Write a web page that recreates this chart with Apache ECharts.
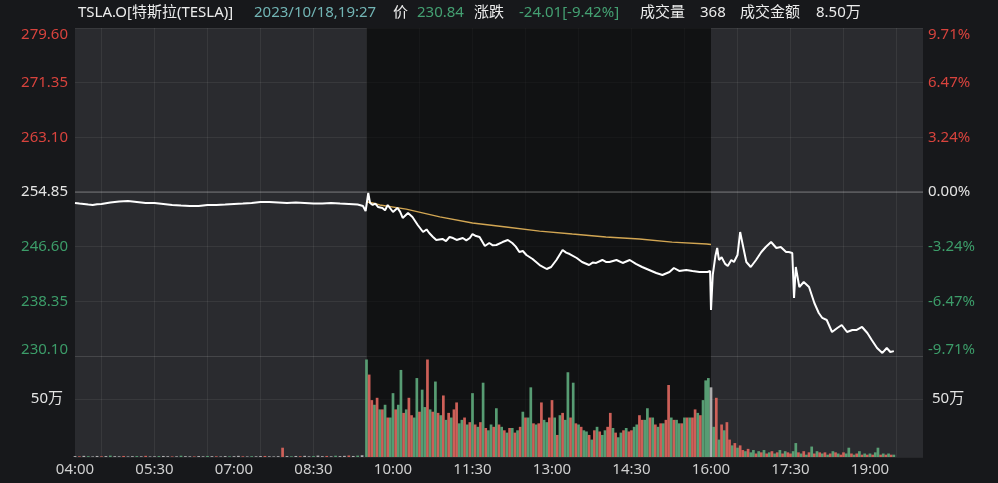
<!DOCTYPE html>
<html><head><meta charset="utf-8">
<script src="https://cdn.jsdelivr.net/npm/echarts@6/dist/echarts.min.js"></script>
<style>html,body{margin:0;padding:0;background:#17181b;}#c{width:998px;height:483px;}</style>
</head><body><div id="c"></div>
<script>
// ---------------- data ----------------
const prevClose = 254.85;
const xTickLabels = ['04:00','05:30','07:00','08:30','10:00','11:30','13:00','14:30','16:00','17:30','19:00'];
const priceTickLabels = ['230.10','238.35','246.60','254.85','263.10','271.35','279.60'];
const pctTickLabels = ['-9.71%','-6.47%','-3.24%','0.00%','3.24%','6.47%','9.71%'];
const volTickLabel = '50万';

const header = {
  name: 'TSLA.O[特斯拉(TESLA)]', time: '2023/10/18,19:27',
  priceLbl: '价', price: '230.84', chgLbl: '涨跌', chg: '-24.01[-9.42%]',
  volLbl: '成交量', vol: '368', amtLbl: '成交金额', amt: '8.50万'
};

const preTimes = ['04:00','04:05','04:10','04:15','04:20','04:25','04:30','04:40','04:50','05:00','05:10','05:20','05:30','05:40','05:50','06:00','06:10','06:20','06:30','06:40','06:50','07:00','07:10','07:20','07:30','07:40','07:50','08:00','08:10','08:20','08:30','08:40','08:50','09:00','09:10','09:20','09:26','09:29'];
const prePrices = [253.19,253.10,253.04,252.96,252.89,253.00,253.04,253.27,253.42,253.49,253.34,253.19,253.19,253.04,252.89,252.81,252.74,252.74,252.89,252.89,252.96,253.04,253.11,253.19,253.34,253.34,253.27,253.19,253.27,253.19,253.11,253.11,253.19,253.11,253.04,252.96,252.74,251.98];

const regTimes = ['09:30','09:32','09:34','09:37','09:40','09:43','09:48','09:51','09:54','10:00','10:05','10:08','10:11','10:17','10:22','10:28','10:34','10:38','10:41','10:45','10:49','10:56','11:00','11:04','11:08','11:12','11:19','11:23','11:27','11:30','11:34','11:38','11:44','11:49','11:53','11:57','12:04','12:10','12:15','12:19','12:23','12:27','12:31','12:38','12:46','12:54','12:59','13:05','13:12','13:16','13:20','13:28','13:34','13:42','13:46','13:50','13:57','14:01','14:05','14:13','14:20','14:28','14:35','14:42','14:50','14:58','15:05','15:13','15:18','15:24','15:32','15:39','15:47','15:56','15:59'];
const regPrices = [251.68,254.70,253.20,252.89,253.10,252.59,252.44,252.10,252.89,251.83,252.44,251.90,250.93,251.68,251.08,249.87,248.81,249.20,248.66,248.10,247.61,247.76,247.45,248.06,247.90,247.61,247.91,247.55,247.91,248.51,248.20,248.06,246.70,247.15,246.80,246.85,247.30,247.61,247.15,246.60,245.80,245.95,245.34,244.74,243.83,243.23,243.53,244.59,246.10,245.70,245.49,244.89,244.29,243.83,244.20,244.14,244.59,244.30,244.29,244.59,244.14,244.59,243.99,243.53,243.08,242.63,242.33,242.78,243.38,242.93,243.08,242.93,242.78,242.78,242.93];

const postTimes = ['16:00','16:02','16:05','16:07','16:09','16:12','16:16','16:19','16:23','16:26','16:30','16:33','16:36','16:40','16:45','16:51','16:57','17:02','17:08','17:14','17:19','17:25','17:28','17:32','17:34','17:36','17:40','17:45','17:51','17:57','18:02','18:06','18:11','18:17','18:23','18:28','18:34','18:40','18:45','18:51','18:57','19:02','19:08','19:14','19:19','19:23','19:27'];
const postPrices = [237.04,242.33,245.20,246.40,244.60,245.00,244.00,243.68,244.59,244.29,245.34,248.81,246.85,244.29,243.53,244.59,245.80,246.55,247.30,246.40,246.55,245.80,245.80,245.65,238.85,243.53,240.51,241.27,240.51,238.10,236.59,235.84,235.53,233.72,234.33,234.78,233.72,234.03,234.03,234.48,233.57,232.52,231.31,230.56,231.31,230.70,230.84];

const avgTimes = ['09:31','09:37','09:45','10:15','10:53','11:30','12:08','12:46','13:23','14:01','14:39','15:16','15:55','16:00'];
const avgPrices = [253.34,253.19,252.89,252.28,251.08,250.17,249.57,248.96,248.51,248.06,247.76,247.30,247.00,246.93];

// volume, in 万 shares; each session: start time, minutes per bar, values, direction (r up / g down / w flat)
const preVolStart = '04:00', preVolStep = 5;
const preVol = [0.8,0.6,1.0,0.7,0.5,0.9,0.6,0.8,1.2,0.7,
 0.6,0.9,0.5,0.7,0.8,0.6,1.0,0.5,0.6,0.8,
 0.9,0.7,0.5,0.6,1.1,0.7,0.6,0.5,0.8,0.6,
 0.9,0.7,0.6,0.5,0.8,0.6,0.7,1.0,0.6,0.5,
 0.7,0.6,0.8,0.9,0.6,0.5,0.7,8.0,0.8,0.6,
 0.9,0.7,1.0,0.6,0.8,1.2,0.7,0.9,0.6,1.1,
 0.8,1.0,1.3,0.9,1.2,1.5];
const preDir = 'wrwgwwrwgw'+'wrwwgwrwwg'+'wwrwgwwrww'+'gwrwwgwwrw'+'gwwrwwwrwg'+'wrwwgwwrwg'+'wwrwgw';

const regVolStart = '09:30', regVolStep = 3;
const regVol = [84,71,49,45,51,41,41,45,34,34,
 55,41,45,75,38,41,51,36,34,68,
 39,58,43,84,41,39,65,38,36,53,
 32,38,34,41,47,29,32,34,28,30,
 55,28,26,30,64,25,23,28,26,42,
 28,26,23,21,25,25,21,23,26,39,
 34,34,60,29,28,29,47,32,30,34,
 49,34,19,36,38,32,73,34,64,29,
 28,26,23,22,19,15,23,26,22,19,
 23,26,38,25,21,17,21,23,25,22,
 23,26,28,36,32,32,42,34,34,28,
 26,29,29,32,62,34,32,32,29,29,
 34,34,34,34,41,38,36,49,66,68];
const regDir = 'grrgrgrgrg'+'grggrgrrgg'+'rggrgrgrgr'+'grgrrggrgr'+'grgrgrggrg'+'rgrgrgrgrg'+'rggrgrrggr'+'rgrgrggrgr'+'grggrgrgrg'+'grrgrggrgr'+'rggrrggrgr'+'grgrrgrggr'+'grgrrgrggg';

const postVolStart = '16:00', postVolStep = 3;
const postVol = [60,26,51,15,28,23,30,15,10,12,
 8,10,6,5,7,4,6,3,5,4,
 6,3,4,5,3,4,6,3,5,4,
 3,5,12,4,3,5,2,4,9,3,
 5,4,3,4,2,3,5,4,3,2,
 4,3,8,3,2,3,5,2,3,2,
 3,2,4,8,2,3,2,3,2,2];
const postDir = 'wgrgrgrrgr'+'grrgrggrgr'+'grgrgrgrgr'+'rggrgrgrgr'+'grgrgrgrgr'+'rggrgrgrgr'+'grggrgrgrg';

// ---------------- helpers ----------------
function toMin(t){ const p = t.split(':').map(Number); return (p[0]-4)*60 + p[1]; }
function toHHMM(v){ const h = 4 + Math.floor(v/60), m = v % 60; return String(h).padStart(2,'0')+':'+String(m).padStart(2,'0'); }
function pairs(times, prices){ return times.map((t,i)=>[toMin(t), +(prices[i]-prevClose).toFixed(3)]); }

const RED = '#d8433d', GREEN = '#3c9c69', WHITE = '#e4e4e4';
const barColors = { r: 'rgba(216,100,92,0.95)', g: 'rgba(92,164,120,0.95)', w: 'rgba(220,220,220,0.75)' };
function bars(start, step, vols, dirs){
  const s = toMin(start);
  return vols.map((v,i)=>({ value: [s + i*step, v], itemStyle: { color: barColors[dirs[i]] || barColors.w } }));
}

const priceData = pairs(preTimes, prePrices).concat(pairs(regTimes, regPrices), pairs(postTimes, postPrices));
const avgData = pairs(avgTimes, avgPrices);
const volData = bars(preVolStart, preVolStep, preVol, preDir).concat(bars(regVolStart, regVolStep, regVol, regDir), bars(postVolStart, postVolStep, postVol, postDir));

const FONT = "'Noto Sans', 'Noto Sans CJK SC', sans-serif";
const GRIDLINE = 'rgba(255,255,255,0.065)';
const STEP = 8.25, SPAN = 3*STEP;

function yLabel(list){
  return function(v){
    const k = Math.round((v + SPAN)/STEP);
    const txt = list[k];
    if (txt === undefined) return '';
    if (k === 6) return '{rT|'+txt+'}';
    if (k === 0) return '{gB|'+txt+'}';
    if (k > 3) return '{r|'+txt+'}';
    if (k < 3) return '{g|'+txt+'}';
    return '{w|'+txt+'}';
  };
}
const yRich = {
  r: { color: RED, fontSize: 15, fontFamily: FONT },
  g: { color: GREEN, fontSize: 15, fontFamily: FONT },
  w: { color: WHITE, fontSize: 15, fontFamily: FONT },
  rT: { color: RED, fontSize: 15, fontFamily: FONT, padding: [14,0,0,0] },
  gB: { color: GREEN, fontSize: 15, fontFamily: FONT, padding: [0,0,12,0] }
};

const chart = echarts.init(document.getElementById('c'), null, { renderer: 'canvas' });
const hdrBase = { fontSize: 15, fontFamily: FONT, lineHeight: 20, fontWeight: 'normal' };
chart.setOption({
  animation: false,
  backgroundColor: '#17181b',
  title: {
    left: 78, top: 3, padding: 0,
    text: '{a|'+header.name+'}{d|'+header.time+'}{b|'+header.priceLbl+'}{g|'+header.price+'}{c|'+header.chgLbl+'}{h|'+header.chg+'}{e|'+header.volLbl+'}{f|'+header.vol+'}{i|'+header.amtLbl+'}{j|'+header.amt+'}',
    textStyle: {
      fontWeight: 'normal',
      rich: {
        a: Object.assign({ color: '#ececec', width: 176 }, hdrBase),
        d: Object.assign({ color: '#72b5b5', width: 139 }, hdrBase),
        b: Object.assign({ color: '#ececec', width: 24 }, hdrBase),
        g: Object.assign({ color: '#44a072', width: 57 }, hdrBase),
        c: Object.assign({ color: '#ececec', width: 45 }, hdrBase),
        h: Object.assign({ color: '#44a072', width: 121 }, hdrBase),
        e: Object.assign({ color: '#ececec', width: 60 }, hdrBase),
        f: Object.assign({ color: '#ececec', width: 40 }, hdrBase),
        i: Object.assign({ color: '#ececec', width: 76 }, hdrBase),
        j: Object.assign({ color: '#ececec' }, hdrBase)
      }
    }
  },
  grid: [
    { left: 75, right: 75, top: 28, height: 328, show: true, backgroundColor: '#2a2b2f', borderWidth: 0 },
    { left: 75, right: 75, top: 356, height: 101, show: true, backgroundColor: '#2a2b2f', borderWidth: 0 }
  ],
  xAxis: [
    { gridIndex: 0, type: 'value', min: 0, max: 960, interval: 30,
      axisLabel: { show: false }, axisTick: { show: false }, axisLine: { show: false },
      splitLine: { show: true, lineStyle: { color: ['rgba(0,0,0,0)', GRIDLINE], width: 1 } } },
    { gridIndex: 1, type: 'value', min: 0, max: 960, interval: 30,
      axisTick: { show: false }, axisLine: { show: false },
      axisLabel: { color: '#cfcfcf', fontSize: 15, fontFamily: FONT, margin: 5,
        formatter: v => { const s = toHHMM(v); return xTickLabels.indexOf(s) >= 0 ? s : ''; } },
      splitLine: { show: true, lineStyle: { color: ['rgba(0,0,0,0)', GRIDLINE], width: 1 } } }
  ],
  yAxis: [
    { gridIndex: 0, type: 'value', position: 'left', min: -SPAN, max: SPAN, interval: STEP,
      axisLine: { show: false }, axisTick: { show: false },
      axisLabel: { margin: 7, formatter: yLabel(priceTickLabels), rich: yRich },
      splitLine: { show: true, lineStyle: { color: GRIDLINE, width: 1 } } },
    { gridIndex: 0, type: 'value', position: 'right', min: -SPAN, max: SPAN, interval: STEP,
      axisLine: { show: false }, axisTick: { show: false },
      axisLabel: { margin: 5, formatter: yLabel(pctTickLabels), rich: yRich },
      splitLine: { show: false } },
    { gridIndex: 1, type: 'value', position: 'left', min: 0, max: 87, interval: 50,
      axisLine: { show: false }, axisTick: { show: false },
      axisLabel: { margin: 12, color: WHITE, fontSize: 15, fontFamily: FONT, formatter: v => v === 50 ? volTickLabel : '' },
      splitLine: { show: true, lineStyle: { color: GRIDLINE, width: 1 } } },
    { gridIndex: 1, type: 'value', position: 'right', min: 0, max: 87, interval: 50,
      axisLine: { show: false }, axisTick: { show: false },
      axisLabel: { margin: 9, color: WHITE, fontSize: 15, fontFamily: FONT, formatter: v => v === 50 ? volTickLabel : '' },
      splitLine: { show: false } }
  ],
  series: [
    { type: 'line', xAxisIndex: 0, yAxisIndex: 0, data: avgData, showSymbol: false, symbol: 'none',
      lineStyle: { color: '#d2a653', width: 1.3 }, silent: true,
      markArea: { silent: true, itemStyle: { color: 'rgba(0,0,0,0.58)' },
        data: [[{ xAxis: toMin('09:30') }, { xAxis: toMin('16:00') }]] },
      markLine: { silent: true, symbol: 'none', label: { show: false },
        lineStyle: { color: 'rgba(255,255,255,0.22)', type: 'solid', width: 1.5 },
        data: [{ yAxis: 0 }] } },
    { type: 'line', xAxisIndex: 0, yAxisIndex: 0, data: priceData, showSymbol: false, symbol: 'none',
      lineStyle: { color: '#ffffff', width: 2 }, silent: true },
    { type: 'bar', xAxisIndex: 1, yAxisIndex: 2, data: volData, barWidth: 2.7, silent: true,
      markArea: { silent: true, itemStyle: { color: 'rgba(0,0,0,0.58)' },
        data: [[{ xAxis: toMin('09:30') }, { xAxis: toMin('16:00') }]] } }
  ]
});
</script>
</body></html>
